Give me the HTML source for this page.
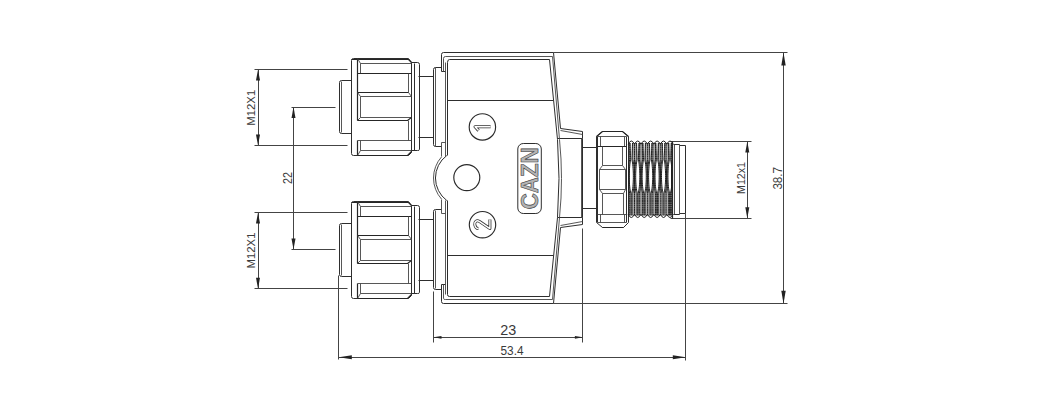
<!DOCTYPE html>
<html><head><meta charset="utf-8"><style>
html,body{margin:0;padding:0;background:#fff;}
svg{display:block;}
text{font-family:"Liberation Sans",sans-serif;fill:#3a3a3a;}
.l{fill:none;stroke:#2e2e2e;stroke-width:1.0;}
.t{fill:none;stroke:#444;stroke-width:0.9;}
.k{fill:none;stroke:#262626;stroke-width:1.2;}
.d{fill:none;stroke:#444;stroke-width:1;}
.c{fill:none;stroke:#2a2a2a;stroke-width:1.15;}
.th{fill:none;stroke:#1e1e1e;stroke-width:1.0;}
.ar{fill:#222;stroke:none;}
.logo{fill:#b4b4b4;stroke:#383838;stroke-width:0.6;font-weight:bold;}
.dg1{fill:none;stroke:#333;stroke-width:3.0;stroke-linejoin:round;}
.dg2{fill:none;stroke:#fff;stroke-width:1.4;stroke-linejoin:round;}
</style></head><body>
<svg width="1042" height="403" viewBox="0 0 1042 403">
<rect width="1042" height="403" fill="#fff"/>
<line x1="254.5" y1="69.5" x2="347.5" y2="69.5" class="d"/><line x1="254.5" y1="145.5" x2="347.5" y2="145.5" class="d"/><line x1="258.5" y1="69.5" x2="258.5" y2="145.5" class="d"/><path d="M258,69.5 L260.00,80.50 L256.00,80.50 Z" class="ar"/><path d="M258,145.5 L256.00,134.50 L260.00,134.50 Z" class="ar"/><text x="0" y="0" transform="translate(255,107.8) rotate(-90)" font-size="10" text-anchor="middle" textLength="36" lengthAdjust="spacingAndGlyphs">M12X1</text><line x1="254.5" y1="212.5" x2="347.5" y2="212.5" class="d"/><line x1="254.5" y1="288.5" x2="347.5" y2="288.5" class="d"/><line x1="258.5" y1="212.5" x2="258.5" y2="288.5" class="d"/><path d="M258,212.5 L260.00,223.50 L256.00,223.50 Z" class="ar"/><path d="M258,288.8 L256.00,277.80 L260.00,277.80 Z" class="ar"/><text x="0" y="0" transform="translate(255,250.5) rotate(-90)" font-size="10" text-anchor="middle" textLength="36" lengthAdjust="spacingAndGlyphs">M12X1</text><line x1="291.5" y1="107.5" x2="335.5" y2="107.5" class="d"/><line x1="291.5" y1="249.5" x2="335.5" y2="249.5" class="d"/><line x1="293.5" y1="107.5" x2="293.5" y2="249.5" class="d"/><path d="M293.5,107 L295.50,118.00 L291.50,118.00 Z" class="ar"/><path d="M293.5,249.4 L291.50,238.40 L295.50,238.40 Z" class="ar"/><text x="0" y="0" transform="translate(291.5,178) rotate(-90)" font-size="12.5" text-anchor="middle" textLength="12" lengthAdjust="spacingAndGlyphs">22</text><line x1="670.5" y1="141.5" x2="751.5" y2="141.5" class="d"/><line x1="670.5" y1="218.5" x2="751.5" y2="218.5" class="d"/><line x1="747.5" y1="141.5" x2="747.5" y2="218.5" class="d"/><path d="M747.3,141.4 L749.30,152.40 L745.30,152.40 Z" class="ar"/><path d="M747.3,218.3 L745.30,207.30 L749.30,207.30 Z" class="ar"/><text x="0" y="0" transform="translate(745,178) rotate(-90)" font-size="11.5" text-anchor="middle" textLength="32" lengthAdjust="spacingAndGlyphs">M12x1</text><line x1="553.5" y1="52.5" x2="787.5" y2="52.5" class="d"/><line x1="553.5" y1="303.5" x2="787.5" y2="303.5" class="d"/><line x1="783.5" y1="52.5" x2="783.5" y2="303.5" class="d"/><path d="M783.5,52.4 L785.70,65.40 L781.30,65.40 Z" class="ar"/><path d="M783.5,303.8 L781.30,290.80 L785.70,290.80 Z" class="ar"/><text x="0" y="0" transform="translate(781.8,178.3) rotate(-90)" font-size="12.5" text-anchor="middle" textLength="22.6" lengthAdjust="spacingAndGlyphs">38.7</text><line x1="338.5" y1="275.5" x2="338.5" y2="359.5" class="d"/><line x1="685.5" y1="213.5" x2="685.5" y2="360.5" class="d"/><line x1="338.5" y1="357.5" x2="685.5" y2="357.5" class="d"/><path d="M338.8,357.3 L351.80,355.30 L351.80,359.30 Z" class="ar"/><path d="M685.8,357.3 L672.80,359.30 L672.80,355.30 Z" class="ar"/><text x="500.5" y="354.8" font-size="12" textLength="23" lengthAdjust="spacingAndGlyphs">53.4</text><line x1="433.5" y1="291.5" x2="433.5" y2="342.5" class="d"/><line x1="582.5" y1="228.5" x2="582.5" y2="342.5" class="d"/><line x1="433.5" y1="337.5" x2="582.5" y2="337.5" class="d"/><path d="M433.5,337.3 L441.50,335.90 L441.50,338.70 Z" class="ar"/><path d="M582.9,337.3 L574.90,338.70 L574.90,335.90 Z" class="ar"/><text x="500.3" y="334.8" font-size="14" textLength="16" lengthAdjust="spacingAndGlyphs">23</text><g id="nut"><path d="M351.5,80.5 H341.5 Q339.5,80.5 339.5,82.5 V131.5 Q339.5,133.5 341.5,133.5 H351.5" class="l"/><line x1="341.5" y1="81.5" x2="341.5" y2="132.5" class="t"/><path d="M353.5,58.5 H408.5 L411.5,62.5 V152.5 L408.5,155.5 H353.5 Q351.5,155.5 351.5,153.5 V60.5 Q351.5,58.5 353.5,58.5 Z" class="l"/><path d="M351.5,59.5 H408.5 L411.5,62.5" class="k"/><path d="M357.5,58.5 V120.5 M357.5,140.5 V155.5" class="k"/><path d="M357.5,58.5 L360.5,63.5 H411.5 M360.5,63.5 V73.5" class="t"/><line x1="357.5" y1="73.5" x2="411.5" y2="73.5" class="k"/><path d="M408.5,73.5 V92.5 L411.5,96.5" class="t"/><line x1="357.5" y1="92.5" x2="408.5" y2="92.5" class="k"/><path d="M357.5,92.5 L360.5,96.5 H411.5 M360.5,96.5 V117.5 H411.5 M357.5,120.5 L360.5,117.5" class="t"/><path d="M357.5,120.5 H407.5 L411.5,117.5" class="k"/><path d="M408.5,120.5 V140.5" class="t"/><line x1="357.5" y1="140.5" x2="411.5" y2="140.5" class="t"/><path d="M360.5,140.5 V150.5 H411.5 M357.5,155.5 L360.5,150.5" class="t"/><path d="M357.5,155.5 H407.5 L411.5,151.5" class="k"/><path d="M411.5,62.5 H417.5 Q419.5,62.5 419.5,64.5 V149.5 Q419.5,150.5 417.5,150.5 H411.5" class="l"/><line x1="414.5" y1="63.5" x2="414.5" y2="150.5" class="l"/><line x1="418.5" y1="76.5" x2="433.5" y2="76.5" class="l"/><line x1="418.5" y1="137.5" x2="433.5" y2="137.5" class="l"/></g><use href="#nut" transform="translate(0,143)"/><path d="M441.5,146.5 H435.5 Q433.5,146.5 433.5,144.5 V69.5 Q433.5,67.5 435.5,67.5 H441.5" class="l"/><line x1="435.5" y1="67.5" x2="435.5" y2="146.5" class="t"/><path d="M441.5,209.5 H435.5 Q433.5,209.5 433.5,211.5 V287.5 Q433.5,289.5 435.5,289.5 H441.5" class="l"/><line x1="435.5" y1="288.5" x2="435.5" y2="210.5" class="t"/><path d="M445.5,71.5 H441.5 V54.5 Q441.5,52.5 443.5,52.5 H553.5" class="l"/><path d="M443.5,71.5 V58.5 Q443.5,56.5 445.5,56.5 H552.5" class="t"/><path d="M445.5,284.5 H441.5 V301.5 Q441.5,303.5 443.5,303.5 H553.5" class="l"/><path d="M443.5,284.5 V298.5 Q443.5,299.5 445.5,299.5 H552.5" class="t"/><path d="M441.5,156.5 V142.5 H445.5" class="t"/><path d="M441.5,199.5 V213.5 H445.5" class="t"/><path d="M447.5,155.5 V62.5 Q447.5,59.5 449.5,59.5 H549.5" class="l"/><path d="M445.5,156.5 V62.5" class="t"/><path d="M447.5,200.5 V294.5 Q447.5,296.5 449.5,296.5 H549.5" class="l"/><path d="M445.5,200.5 V294.5" class="t"/><path d="M446.8,155.5 A28,28 0 0 0 446.8,200.5" class="l"/><path d="M441.6,156.8 A31.8,31.8 0 0 0 441.6,199.2" class="t"/><line x1="447.5" y1="100.5" x2="553.5" y2="100.5" class="l"/><line x1="447.5" y1="255.5" x2="553.5" y2="255.5" class="l"/><path d="M553.5,52.5 L560.5,128.5 L582.5,131.5 V138.5 H557.5" class="l"/><path d="M560.5,130.5 L582.5,134.5" class="t"/><path d="M553.5,303.5 L560.5,227.5 L582.5,224.5 V217.5 H557.5" class="l"/><path d="M560.5,225.5 L582.5,221.5" class="t"/><path d="M549.5,59.5 L557.5,139.5 Q560.5,178.5 557.5,217.5 L549.5,296.5" class="l"/><path d="M552.5,56.5 L559.5,139.5 Q563.5,178.5 559.5,217.5 L552.5,299.5" class="t"/><line x1="581.5" y1="138.5" x2="581.5" y2="217.5" class="t"/><line x1="582.5" y1="138.5" x2="582.5" y2="217.5" class="l"/><circle cx="482.4" cy="126.9" r="13.2" class="c"/><circle cx="482.5" cy="224.7" r="13.2" class="c"/><circle cx="466.8" cy="177.6" r="13" class="c"/><path d="M490.6,126.8 H475 L478.6,130.6" class="dg1"/><path d="M490.6,126.8 H475 L478.6,130.6" class="dg2"/><path d="M489.9,219.6 V228.6 L479.6,221.6 C476.5,219.6 474.2,222 474.8,224.8 C475.3,227.2 476.8,228.6 478.4,228.6" class="dg1"/><path d="M489.9,219.6 V228.6 L479.6,221.6 C476.5,219.6 474.2,222 474.8,224.8 C475.3,227.2 476.8,228.6 478.4,228.6" class="dg2"/><rect x="517.8" y="143.5" width="23.5" height="70" rx="5.5" class="l"/><text x="0" y="0" transform="translate(538,178.3) rotate(-90)" font-size="23" text-anchor="middle" textLength="62" lengthAdjust="spacingAndGlyphs" class="logo">CAZN</text><line x1="582.5" y1="147.5" x2="596.5" y2="147.5" class="l"/><line x1="582.5" y1="208.5" x2="596.5" y2="208.5" class="l"/><path d="M602.5,131.5 H622.5 L628.5,136.5 V222.5 L623.5,227.5 H602.5 L596.5,222.5 V136.5 Z" class="l"/><path d="M597.5,136.5 V222.5 M626.5,136.5 V222.5" class="l"/><path d="M597.5,136.5 H626.5 M600.5,136.5 V146.5 M624.5,136.5 V146.5" class="t"/><path d="M602.5,131.5 H622.5 L628.5,136.5 M602.5,131.5 L596.5,136.5 M597.5,146.5 H626.5 M602.5,227.5 H623.5" class="k"/><path d="M602.5,146.5 V165.5 H622.5 V146.5 M602.5,165.5 L599.5,169.5 H625.5 L622.5,165.5" class="t"/><path d="M599.5,169.5 V189.5 M625.5,169.5 V189.5 M599.5,189.5 H625.5 M599.5,189.5 L602.5,193.5 H623.5 L625.5,189.5" class="t"/><path d="M602.5,193.5 V214.5 M623.5,193.5 V214.5 M597.5,214.5 H626.5 M597.5,222.5 H626.5 M600.5,214.5 V222.5 M624.5,214.5 V222.5" class="t"/><path d="M628.8,144.2 L628.10,144.2 Q631.30,137.8 634.50,144.2 L634.55,144.2 Q637.75,137.8 640.95,144.2 L641.00,144.2 Q644.20,137.8 647.40,144.2 L647.45,144.2 Q650.65,137.8 653.85,144.2 L653.90,144.2 Q657.10,137.8 660.30,144.2 L660.35,144.2 Q663.55,137.8 666.75,144.2 L666.80,144.2 Q670.00,137.8 673.20,144.2 M628.8,214.3 L628.10,214.3 Q631.30,220.7 634.50,214.3 L634.55,214.3 Q637.75,220.7 640.95,214.3 L641.00,214.3 Q644.20,220.7 647.40,214.3 L647.45,214.3 Q650.65,220.7 653.85,214.3 L653.90,214.3 Q657.10,220.7 660.30,214.3 L660.35,214.3 Q663.55,220.7 666.75,214.3 L666.80,214.3 Q670.00,220.7 673.20,214.3 M629.67,143.00 L629.67,144.81 L629.67,146.62 L629.67,148.44 L629.67,150.25 L629.67,152.06 L629.67,153.88 L629.67,155.69 L629.67,157.50 L629.67,159.31 L629.43,161.12 L629.10,162.94 L629.11,190.12 L629.45,191.94 L629.67,193.75 L629.67,195.56 L629.67,197.38 L629.67,199.19 L629.67,201.00 L629.67,202.81 L629.67,204.62 L629.67,206.44 L629.67,208.25 L629.67,210.06 L629.67,211.88 L629.67,213.69 L629.67,215.50 M630.08,143.00 L630.14,144.81 L630.20,146.62 L630.26,148.44 L630.32,150.25 L630.39,152.06 L630.45,153.88 L630.51,155.69 L630.57,157.50 L630.63,159.31 L630.39,161.12 L630.05,162.94 L629.84,164.75 L629.68,166.56 L629.53,168.38 L629.42,170.19 L629.33,172.00 L629.28,173.81 L629.25,175.62 L629.25,177.44 L629.28,179.25 L629.34,181.06 L629.42,182.88 L629.54,184.69 L629.69,186.50 L629.89,188.31 L630.16,190.12 L630.57,191.94 L630.85,193.75 L630.85,195.56 L630.85,197.38 L630.85,199.19 L630.85,201.00 L630.85,202.81 L630.85,204.62 L630.85,206.44 L630.85,208.25 L630.85,210.06 L630.85,211.88 L630.85,213.69 L630.85,215.50 M632.52,143.00 L632.46,144.81 L632.40,146.62 L632.34,148.44 L632.27,150.25 L632.21,152.06 L632.15,153.88 L632.09,155.69 L632.03,157.50 L631.97,159.31 L632.21,161.12 L632.55,162.94 L632.76,164.75 L632.92,166.56 L633.07,168.38 L633.18,170.19 L633.27,172.00 L633.32,173.81 L633.35,175.62 L633.35,177.44 L633.32,179.25 L633.26,181.06 L633.18,182.88 L633.06,184.69 L632.91,186.50 L632.71,188.31 L632.44,190.12 L632.03,191.94 L631.75,193.75 L631.75,195.56 L631.75,197.38 L631.75,199.19 L631.75,201.00 L631.75,202.81 L631.75,204.62 L631.75,206.44 L631.75,208.25 L631.75,210.06 L631.75,211.88 L631.75,213.69 L631.75,215.50 M632.92,143.00 L632.92,144.81 L632.92,146.62 L632.92,148.44 L632.92,150.25 L632.92,152.06 L632.92,153.88 L632.92,155.69 L632.92,157.50 L632.92,159.31 L633.17,161.12 L633.50,162.94 L633.71,164.75 L633.87,166.56 L634.00,168.38 L634.09,170.19 L634.16,172.00 L634.20,173.81 L634.22,175.62 L634.22,177.44 L634.20,179.25 L634.16,181.06 L634.09,182.88 L633.99,184.69 L633.87,186.50 L633.70,188.31 L633.49,190.12 L633.15,191.94 L632.92,193.75 L632.92,195.56 L632.92,197.38 L632.92,199.19 L632.92,201.00 L632.92,202.81 L632.92,204.62 L632.92,206.44 L632.92,208.25 L632.92,210.06 L632.92,211.88 L632.92,213.69 L632.92,215.50 M636.12,143.00 L636.12,144.81 L636.12,146.62 L636.12,148.44 L636.12,150.25 L636.12,152.06 L636.12,153.88 L636.12,155.69 L636.12,157.50 L636.12,159.31 L635.88,161.12 L635.55,162.94 L635.34,164.75 L635.18,166.56 L635.05,168.38 L634.96,170.19 L634.89,172.00 L634.85,173.81 L634.83,175.62 L634.83,177.44 L634.85,179.25 L634.89,181.06 L634.96,182.88 L635.06,184.69 L635.18,186.50 L635.35,188.31 L635.56,190.12 L635.90,191.94 L636.12,193.75 L636.12,195.56 L636.12,197.38 L636.12,199.19 L636.12,201.00 L636.12,202.81 L636.12,204.62 L636.12,206.44 L636.12,208.25 L636.12,210.06 L636.12,211.88 L636.12,213.69 L636.12,215.50 M634.52,143.00 L634.52,144.81 L634.52,146.62 L634.52,148.44 L634.52,150.25 L634.52,152.06 L634.52,153.88 L634.52,155.69 L634.52,157.50 L634.52,159.31 L634.52,161.12 L634.52,162.94 L634.52,164.75 L634.52,166.56 L634.52,168.38 L634.52,170.19 L634.52,172.00 L634.52,173.81 L634.52,175.62 L634.52,177.44 L634.52,179.25 L634.52,181.06 L634.52,182.88 L634.52,184.69 L634.52,186.50 L634.52,188.31 L634.52,190.12 L634.52,191.94 L634.52,193.75 L634.52,195.56 L634.52,197.38 L634.52,199.19 L634.52,201.00 L634.52,202.81 L634.52,204.62 L634.52,206.44 L634.52,208.25 L634.52,210.06 L634.52,211.88 L634.52,213.69 L634.52,215.50 M636.53,143.00 L636.59,144.81 L636.65,146.62 L636.71,148.44 L636.77,150.25 L636.84,152.06 L636.90,153.88 L636.96,155.69 L637.02,157.50 L637.08,159.31 L636.84,161.12 L636.50,162.94 L636.29,164.75 L636.13,166.56 L635.98,168.38 L635.87,170.19 L635.78,172.00 L635.73,173.81 L635.70,175.62 L635.70,177.44 L635.73,179.25 L635.79,181.06 L635.87,182.88 L635.99,184.69 L636.14,186.50 L636.34,188.31 L636.61,190.12 L637.02,191.94 L637.30,193.75 L637.30,195.56 L637.30,197.38 L637.30,199.19 L637.30,201.00 L637.30,202.81 L637.30,204.62 L637.30,206.44 L637.30,208.25 L637.30,210.06 L637.30,211.88 L637.30,213.69 L637.30,215.50 M638.97,143.00 L638.91,144.81 L638.85,146.62 L638.79,148.44 L638.73,150.25 L638.66,152.06 L638.60,153.88 L638.54,155.69 L638.48,157.50 L638.42,159.31 L638.66,161.12 L639.00,162.94 L639.21,164.75 L639.37,166.56 L639.52,168.38 L639.63,170.19 L639.72,172.00 L639.77,173.81 L639.80,175.62 L639.80,177.44 L639.77,179.25 L639.71,181.06 L639.63,182.88 L639.51,184.69 L639.36,186.50 L639.16,188.31 L638.89,190.12 L638.48,191.94 L638.20,193.75 L638.20,195.56 L638.20,197.38 L638.20,199.19 L638.20,201.00 L638.20,202.81 L638.20,204.62 L638.20,206.44 L638.20,208.25 L638.20,210.06 L638.20,211.88 L638.20,213.69 L638.20,215.50 M639.38,143.00 L639.38,144.81 L639.38,146.62 L639.38,148.44 L639.38,150.25 L639.38,152.06 L639.38,153.88 L639.38,155.69 L639.38,157.50 L639.38,159.31 L639.62,161.12 L639.95,162.94 L640.16,164.75 L640.32,166.56 L640.45,168.38 L640.54,170.19 L640.61,172.00 L640.65,173.81 L640.67,175.62 L640.67,177.44 L640.65,179.25 L640.61,181.06 L640.54,182.88 L640.44,184.69 L640.32,186.50 L640.15,188.31 L639.94,190.12 L639.60,191.94 L639.38,193.75 L639.38,195.56 L639.38,197.38 L639.38,199.19 L639.38,201.00 L639.38,202.81 L639.38,204.62 L639.38,206.44 L639.38,208.25 L639.38,210.06 L639.38,211.88 L639.38,213.69 L639.38,215.50 M642.58,143.00 L642.58,144.81 L642.58,146.62 L642.58,148.44 L642.58,150.25 L642.58,152.06 L642.58,153.88 L642.58,155.69 L642.58,157.50 L642.58,159.31 L642.33,161.12 L642.00,162.94 L641.79,164.75 L641.63,166.56 L641.50,168.38 L641.41,170.19 L641.34,172.00 L641.30,173.81 L641.28,175.62 L641.28,177.44 L641.30,179.25 L641.34,181.06 L641.41,182.88 L641.51,184.69 L641.63,186.50 L641.80,188.31 L642.01,190.12 L642.35,191.94 L642.58,193.75 L642.58,195.56 L642.58,197.38 L642.58,199.19 L642.58,201.00 L642.58,202.81 L642.58,204.62 L642.58,206.44 L642.58,208.25 L642.58,210.06 L642.58,211.88 L642.58,213.69 L642.58,215.50 M640.98,143.00 L640.98,144.81 L640.98,146.62 L640.98,148.44 L640.98,150.25 L640.98,152.06 L640.98,153.88 L640.98,155.69 L640.98,157.50 L640.98,159.31 L640.98,161.12 L640.98,162.94 L640.98,164.75 L640.98,166.56 L640.98,168.38 L640.98,170.19 L640.98,172.00 L640.98,173.81 L640.98,175.62 L640.98,177.44 L640.98,179.25 L640.98,181.06 L640.98,182.88 L640.98,184.69 L640.98,186.50 L640.98,188.31 L640.98,190.12 L640.98,191.94 L640.98,193.75 L640.98,195.56 L640.98,197.38 L640.98,199.19 L640.98,201.00 L640.98,202.81 L640.98,204.62 L640.98,206.44 L640.98,208.25 L640.98,210.06 L640.98,211.88 L640.98,213.69 L640.98,215.50 M642.98,143.00 L643.04,144.81 L643.10,146.62 L643.16,148.44 L643.22,150.25 L643.29,152.06 L643.35,153.88 L643.41,155.69 L643.47,157.50 L643.53,159.31 L643.29,161.12 L642.95,162.94 L642.74,164.75 L642.58,166.56 L642.43,168.38 L642.32,170.19 L642.23,172.00 L642.18,173.81 L642.15,175.62 L642.15,177.44 L642.18,179.25 L642.24,181.06 L642.32,182.88 L642.44,184.69 L642.59,186.50 L642.79,188.31 L643.06,190.12 L643.47,191.94 L643.75,193.75 L643.75,195.56 L643.75,197.38 L643.75,199.19 L643.75,201.00 L643.75,202.81 L643.75,204.62 L643.75,206.44 L643.75,208.25 L643.75,210.06 L643.75,211.88 L643.75,213.69 L643.75,215.50 M645.42,143.00 L645.36,144.81 L645.30,146.62 L645.24,148.44 L645.17,150.25 L645.11,152.06 L645.05,153.88 L644.99,155.69 L644.93,157.50 L644.87,159.31 L645.11,161.12 L645.45,162.94 L645.66,164.75 L645.82,166.56 L645.97,168.38 L646.08,170.19 L646.17,172.00 L646.22,173.81 L646.25,175.62 L646.25,177.44 L646.22,179.25 L646.16,181.06 L646.08,182.88 L645.96,184.69 L645.81,186.50 L645.61,188.31 L645.34,190.12 L644.93,191.94 L644.65,193.75 L644.65,195.56 L644.65,197.38 L644.65,199.19 L644.65,201.00 L644.65,202.81 L644.65,204.62 L644.65,206.44 L644.65,208.25 L644.65,210.06 L644.65,211.88 L644.65,213.69 L644.65,215.50 M645.82,143.00 L645.82,144.81 L645.82,146.62 L645.82,148.44 L645.82,150.25 L645.82,152.06 L645.82,153.88 L645.82,155.69 L645.82,157.50 L645.82,159.31 L646.07,161.12 L646.40,162.94 L646.61,164.75 L646.77,166.56 L646.90,168.38 L646.99,170.19 L647.06,172.00 L647.10,173.81 L647.12,175.62 L647.12,177.44 L647.10,179.25 L647.06,181.06 L646.99,182.88 L646.89,184.69 L646.77,186.50 L646.60,188.31 L646.39,190.12 L646.05,191.94 L645.82,193.75 L645.82,195.56 L645.82,197.38 L645.82,199.19 L645.82,201.00 L645.82,202.81 L645.82,204.62 L645.82,206.44 L645.82,208.25 L645.82,210.06 L645.82,211.88 L645.82,213.69 L645.82,215.50 M649.02,143.00 L649.02,144.81 L649.02,146.62 L649.02,148.44 L649.02,150.25 L649.02,152.06 L649.02,153.88 L649.02,155.69 L649.02,157.50 L649.02,159.31 L648.78,161.12 L648.45,162.94 L648.24,164.75 L648.08,166.56 L647.95,168.38 L647.86,170.19 L647.79,172.00 L647.75,173.81 L647.73,175.62 L647.73,177.44 L647.75,179.25 L647.79,181.06 L647.86,182.88 L647.96,184.69 L648.08,186.50 L648.25,188.31 L648.46,190.12 L648.80,191.94 L649.02,193.75 L649.02,195.56 L649.02,197.38 L649.02,199.19 L649.02,201.00 L649.02,202.81 L649.02,204.62 L649.02,206.44 L649.02,208.25 L649.02,210.06 L649.02,211.88 L649.02,213.69 L649.02,215.50 M647.42,143.00 L647.42,144.81 L647.42,146.62 L647.42,148.44 L647.42,150.25 L647.42,152.06 L647.42,153.88 L647.42,155.69 L647.42,157.50 L647.42,159.31 L647.42,161.12 L647.42,162.94 L647.42,164.75 L647.42,166.56 L647.42,168.38 L647.42,170.19 L647.42,172.00 L647.42,173.81 L647.42,175.62 L647.42,177.44 L647.42,179.25 L647.42,181.06 L647.42,182.88 L647.42,184.69 L647.42,186.50 L647.42,188.31 L647.42,190.12 L647.42,191.94 L647.42,193.75 L647.42,195.56 L647.42,197.38 L647.42,199.19 L647.42,201.00 L647.42,202.81 L647.42,204.62 L647.42,206.44 L647.42,208.25 L647.42,210.06 L647.42,211.88 L647.42,213.69 L647.42,215.50 M649.43,143.00 L649.49,144.81 L649.55,146.62 L649.61,148.44 L649.67,150.25 L649.74,152.06 L649.80,153.88 L649.86,155.69 L649.92,157.50 L649.98,159.31 L649.74,161.12 L649.40,162.94 L649.19,164.75 L649.03,166.56 L648.88,168.38 L648.77,170.19 L648.68,172.00 L648.63,173.81 L648.60,175.62 L648.60,177.44 L648.63,179.25 L648.69,181.06 L648.77,182.88 L648.89,184.69 L649.04,186.50 L649.24,188.31 L649.51,190.12 L649.92,191.94 L650.20,193.75 L650.20,195.56 L650.20,197.38 L650.20,199.19 L650.20,201.00 L650.20,202.81 L650.20,204.62 L650.20,206.44 L650.20,208.25 L650.20,210.06 L650.20,211.88 L650.20,213.69 L650.20,215.50 M651.87,143.00 L651.81,144.81 L651.75,146.62 L651.69,148.44 L651.62,150.25 L651.56,152.06 L651.50,153.88 L651.44,155.69 L651.38,157.50 L651.32,159.31 L651.56,161.12 L651.90,162.94 L652.11,164.75 L652.27,166.56 L652.42,168.38 L652.53,170.19 L652.62,172.00 L652.67,173.81 L652.70,175.62 L652.70,177.44 L652.67,179.25 L652.61,181.06 L652.53,182.88 L652.41,184.69 L652.26,186.50 L652.06,188.31 L651.79,190.12 L651.38,191.94 L651.10,193.75 L651.10,195.56 L651.10,197.38 L651.10,199.19 L651.10,201.00 L651.10,202.81 L651.10,204.62 L651.10,206.44 L651.10,208.25 L651.10,210.06 L651.10,211.88 L651.10,213.69 L651.10,215.50 M652.27,143.00 L652.27,144.81 L652.27,146.62 L652.27,148.44 L652.27,150.25 L652.27,152.06 L652.27,153.88 L652.27,155.69 L652.27,157.50 L652.27,159.31 L652.52,161.12 L652.85,162.94 L653.06,164.75 L653.22,166.56 L653.35,168.38 L653.44,170.19 L653.51,172.00 L653.55,173.81 L653.57,175.62 L653.57,177.44 L653.55,179.25 L653.51,181.06 L653.44,182.88 L653.34,184.69 L653.22,186.50 L653.05,188.31 L652.84,190.12 L652.50,191.94 L652.27,193.75 L652.27,195.56 L652.27,197.38 L652.27,199.19 L652.27,201.00 L652.27,202.81 L652.27,204.62 L652.27,206.44 L652.27,208.25 L652.27,210.06 L652.27,211.88 L652.27,213.69 L652.27,215.50 M655.48,143.00 L655.48,144.81 L655.48,146.62 L655.48,148.44 L655.48,150.25 L655.48,152.06 L655.48,153.88 L655.48,155.69 L655.48,157.50 L655.48,159.31 L655.23,161.12 L654.90,162.94 L654.69,164.75 L654.53,166.56 L654.40,168.38 L654.31,170.19 L654.24,172.00 L654.20,173.81 L654.18,175.62 L654.18,177.44 L654.20,179.25 L654.24,181.06 L654.31,182.88 L654.41,184.69 L654.53,186.50 L654.70,188.31 L654.91,190.12 L655.25,191.94 L655.48,193.75 L655.48,195.56 L655.48,197.38 L655.48,199.19 L655.48,201.00 L655.48,202.81 L655.48,204.62 L655.48,206.44 L655.48,208.25 L655.48,210.06 L655.48,211.88 L655.48,213.69 L655.48,215.50 M653.88,143.00 L653.88,144.81 L653.88,146.62 L653.88,148.44 L653.88,150.25 L653.88,152.06 L653.88,153.88 L653.88,155.69 L653.88,157.50 L653.88,159.31 L653.88,161.12 L653.88,162.94 L653.88,164.75 L653.88,166.56 L653.88,168.38 L653.88,170.19 L653.88,172.00 L653.88,173.81 L653.88,175.62 L653.88,177.44 L653.88,179.25 L653.88,181.06 L653.88,182.88 L653.88,184.69 L653.88,186.50 L653.88,188.31 L653.88,190.12 L653.88,191.94 L653.88,193.75 L653.88,195.56 L653.88,197.38 L653.88,199.19 L653.88,201.00 L653.88,202.81 L653.88,204.62 L653.88,206.44 L653.88,208.25 L653.88,210.06 L653.88,211.88 L653.88,213.69 L653.88,215.50 M655.88,143.00 L655.94,144.81 L656.00,146.62 L656.06,148.44 L656.12,150.25 L656.19,152.06 L656.25,153.88 L656.31,155.69 L656.37,157.50 L656.43,159.31 L656.19,161.12 L655.85,162.94 L655.64,164.75 L655.48,166.56 L655.33,168.38 L655.22,170.19 L655.13,172.00 L655.08,173.81 L655.05,175.62 L655.05,177.44 L655.08,179.25 L655.14,181.06 L655.22,182.88 L655.34,184.69 L655.49,186.50 L655.69,188.31 L655.96,190.12 L656.37,191.94 L656.65,193.75 L656.65,195.56 L656.65,197.38 L656.65,199.19 L656.65,201.00 L656.65,202.81 L656.65,204.62 L656.65,206.44 L656.65,208.25 L656.65,210.06 L656.65,211.88 L656.65,213.69 L656.65,215.50 M658.32,143.00 L658.26,144.81 L658.20,146.62 L658.14,148.44 L658.07,150.25 L658.01,152.06 L657.95,153.88 L657.89,155.69 L657.83,157.50 L657.77,159.31 L658.01,161.12 L658.35,162.94 L658.56,164.75 L658.72,166.56 L658.87,168.38 L658.98,170.19 L659.07,172.00 L659.12,173.81 L659.15,175.62 L659.15,177.44 L659.12,179.25 L659.06,181.06 L658.98,182.88 L658.86,184.69 L658.71,186.50 L658.51,188.31 L658.24,190.12 L657.83,191.94 L657.55,193.75 L657.55,195.56 L657.55,197.38 L657.55,199.19 L657.55,201.00 L657.55,202.81 L657.55,204.62 L657.55,206.44 L657.55,208.25 L657.55,210.06 L657.55,211.88 L657.55,213.69 L657.55,215.50 M658.72,143.00 L658.72,144.81 L658.72,146.62 L658.72,148.44 L658.72,150.25 L658.72,152.06 L658.72,153.88 L658.72,155.69 L658.72,157.50 L658.72,159.31 L658.97,161.12 L659.30,162.94 L659.51,164.75 L659.67,166.56 L659.80,168.38 L659.89,170.19 L659.96,172.00 L660.00,173.81 L660.02,175.62 L660.02,177.44 L660.00,179.25 L659.96,181.06 L659.89,182.88 L659.79,184.69 L659.67,186.50 L659.50,188.31 L659.29,190.12 L658.95,191.94 L658.72,193.75 L658.72,195.56 L658.72,197.38 L658.72,199.19 L658.72,201.00 L658.72,202.81 L658.72,204.62 L658.72,206.44 L658.72,208.25 L658.72,210.06 L658.72,211.88 L658.72,213.69 L658.72,215.50 M661.92,143.00 L661.92,144.81 L661.92,146.62 L661.92,148.44 L661.92,150.25 L661.92,152.06 L661.92,153.88 L661.92,155.69 L661.92,157.50 L661.92,159.31 L661.68,161.12 L661.35,162.94 L661.14,164.75 L660.98,166.56 L660.85,168.38 L660.76,170.19 L660.69,172.00 L660.65,173.81 L660.63,175.62 L660.63,177.44 L660.65,179.25 L660.69,181.06 L660.76,182.88 L660.86,184.69 L660.98,186.50 L661.15,188.31 L661.36,190.12 L661.70,191.94 L661.92,193.75 L661.92,195.56 L661.92,197.38 L661.92,199.19 L661.92,201.00 L661.92,202.81 L661.92,204.62 L661.92,206.44 L661.92,208.25 L661.92,210.06 L661.92,211.88 L661.92,213.69 L661.92,215.50 M660.32,143.00 L660.32,144.81 L660.32,146.62 L660.32,148.44 L660.32,150.25 L660.32,152.06 L660.32,153.88 L660.32,155.69 L660.32,157.50 L660.32,159.31 L660.32,161.12 L660.32,162.94 L660.32,164.75 L660.32,166.56 L660.32,168.38 L660.32,170.19 L660.32,172.00 L660.32,173.81 L660.32,175.62 L660.32,177.44 L660.32,179.25 L660.32,181.06 L660.32,182.88 L660.32,184.69 L660.32,186.50 L660.32,188.31 L660.32,190.12 L660.32,191.94 L660.32,193.75 L660.32,195.56 L660.32,197.38 L660.32,199.19 L660.32,201.00 L660.32,202.81 L660.32,204.62 L660.32,206.44 L660.32,208.25 L660.32,210.06 L660.32,211.88 L660.32,213.69 L660.32,215.50 M662.33,143.00 L662.39,144.81 L662.45,146.62 L662.51,148.44 L662.57,150.25 L662.64,152.06 L662.70,153.88 L662.76,155.69 L662.82,157.50 L662.88,159.31 L662.64,161.12 L662.30,162.94 L662.09,164.75 L661.93,166.56 L661.78,168.38 L661.67,170.19 L661.58,172.00 L661.53,173.81 L661.50,175.62 L661.50,177.44 L661.53,179.25 L661.59,181.06 L661.67,182.88 L661.79,184.69 L661.94,186.50 L662.14,188.31 L662.41,190.12 L662.82,191.94 L663.10,193.75 L663.10,195.56 L663.10,197.38 L663.10,199.19 L663.10,201.00 L663.10,202.81 L663.10,204.62 L663.10,206.44 L663.10,208.25 L663.10,210.06 L663.10,211.88 L663.10,213.69 L663.10,215.50 M664.77,143.00 L664.71,144.81 L664.65,146.62 L664.59,148.44 L664.52,150.25 L664.46,152.06 L664.40,153.88 L664.34,155.69 L664.28,157.50 L664.22,159.31 L664.46,161.12 L664.80,162.94 L665.01,164.75 L665.17,166.56 L665.32,168.38 L665.43,170.19 L665.52,172.00 L665.57,173.81 L665.60,175.62 L665.60,177.44 L665.57,179.25 L665.51,181.06 L665.43,182.88 L665.31,184.69 L665.16,186.50 L664.96,188.31 L664.69,190.12 L664.28,191.94 L664.00,193.75 L664.00,195.56 L664.00,197.38 L664.00,199.19 L664.00,201.00 L664.00,202.81 L664.00,204.62 L664.00,206.44 L664.00,208.25 L664.00,210.06 L664.00,211.88 L664.00,213.69 L664.00,215.50 M665.17,143.00 L665.17,144.81 L665.17,146.62 L665.17,148.44 L665.17,150.25 L665.17,152.06 L665.17,153.88 L665.17,155.69 L665.17,157.50 L665.17,159.31 L665.42,161.12 L665.75,162.94 L665.96,164.75 L666.12,166.56 L666.25,168.38 L666.34,170.19 L666.41,172.00 L666.45,173.81 L666.47,175.62 L666.47,177.44 L666.45,179.25 L666.41,181.06 L666.34,182.88 L666.24,184.69 L666.12,186.50 L665.95,188.31 L665.74,190.12 L665.40,191.94 L665.17,193.75 L665.17,195.56 L665.17,197.38 L665.17,199.19 L665.17,201.00 L665.17,202.81 L665.17,204.62 L665.17,206.44 L665.17,208.25 L665.17,210.06 L665.17,211.88 L665.17,213.69 L665.17,215.50 M668.38,143.00 L668.38,144.81 L668.38,146.62 L668.38,148.44 L668.38,150.25 L668.38,152.06 L668.38,153.88 L668.38,155.69 L668.38,157.50 L668.38,159.31 L668.13,161.12 L667.80,162.94 L667.59,164.75 L667.43,166.56 L667.30,168.38 L667.21,170.19 L667.14,172.00 L667.10,173.81 L667.08,175.62 L667.08,177.44 L667.10,179.25 L667.14,181.06 L667.21,182.88 L667.31,184.69 L667.43,186.50 L667.60,188.31 L667.81,190.12 L668.15,191.94 L668.38,193.75 L668.38,195.56 L668.38,197.38 L668.38,199.19 L668.38,201.00 L668.38,202.81 L668.38,204.62 L668.38,206.44 L668.38,208.25 L668.38,210.06 L668.38,211.88 L668.38,213.69 L668.38,215.50 M666.77,143.00 L666.77,144.81 L666.77,146.62 L666.77,148.44 L666.77,150.25 L666.77,152.06 L666.77,153.88 L666.77,155.69 L666.77,157.50 L666.77,159.31 L666.77,161.12 L666.77,162.94 L666.77,164.75 L666.77,166.56 L666.77,168.38 L666.77,170.19 L666.77,172.00 L666.77,173.81 L666.77,175.62 L666.77,177.44 L666.77,179.25 L666.77,181.06 L666.77,182.88 L666.77,184.69 L666.77,186.50 L666.77,188.31 L666.77,190.12 L666.77,191.94 L666.77,193.75 L666.77,195.56 L666.77,197.38 L666.77,199.19 L666.77,201.00 L666.77,202.81 L666.77,204.62 L666.77,206.44 L666.77,208.25 L666.77,210.06 L666.77,211.88 L666.77,213.69 L666.77,215.50 M668.78,143.00 L668.84,144.81 L668.90,146.62 L668.96,148.44 L669.02,150.25 L669.09,152.06 L669.15,153.88 L669.21,155.69 L669.27,157.50 L669.33,159.31 L669.09,161.12 L668.75,162.94 L668.54,164.75 L668.38,166.56 L668.23,168.38 L668.12,170.19 L668.03,172.00 L667.98,173.81 L667.95,175.62 L667.95,177.44 L667.98,179.25 L668.04,181.06 L668.12,182.88 L668.24,184.69 L668.39,186.50 L668.59,188.31 L668.86,190.12 L669.27,191.94 L669.55,193.75 L669.55,195.56 L669.55,197.38 L669.55,199.19 L669.55,201.00 L669.55,202.81 L669.55,204.62 L669.55,206.44 L669.55,208.25 L669.55,210.06 L669.55,211.88 L669.55,213.69 L669.55,215.50 M671.22,143.00 L671.16,144.81 L671.10,146.62 L671.04,148.44 L670.98,150.25 L670.91,152.06 L670.85,153.88 L670.79,155.69 L670.73,157.50 L670.67,159.31 L670.91,161.12 L671.25,162.94 L671.46,164.75 L671.62,166.56 L671.77,168.38 L671.76,184.69 L671.61,186.50 L671.41,188.31 L671.14,190.12 L670.73,191.94 L670.45,193.75 L670.45,195.56 L670.45,197.38 L670.45,199.19 L670.45,201.00 L670.45,202.81 L670.45,204.62 L670.45,206.44 L670.45,208.25 L670.45,210.06 L670.45,211.88 L670.45,213.69 L670.45,215.50 M671.62,143.00 L671.62,144.81 L671.62,146.62 L671.62,148.44 L671.62,150.25 L671.62,152.06 L671.62,153.88 L671.62,155.69 L671.62,157.50 L671.62,159.31 L671.62,193.75 L671.62,195.56 L671.62,197.38 L671.62,199.19 L671.62,201.00 L671.62,202.81 L671.62,204.62 L671.62,206.44 L671.62,208.25 L671.62,210.06 L671.62,211.88 L671.62,213.69 L671.62,215.50" class="th"/><line x1="672.5" y1="141.5" x2="672.5" y2="218.5" class="k"/><path d="M673.5,144.5 H679.5 V145.5 H685.5 V213.5 H679.5 V214.5 H673.5" class="l"/><line x1="679.5" y1="145.5" x2="679.5" y2="213.5" class="t"/><line x1="674.5" y1="144.5" x2="674.5" y2="214.5" class="t"/>
</svg>
</body></html>
